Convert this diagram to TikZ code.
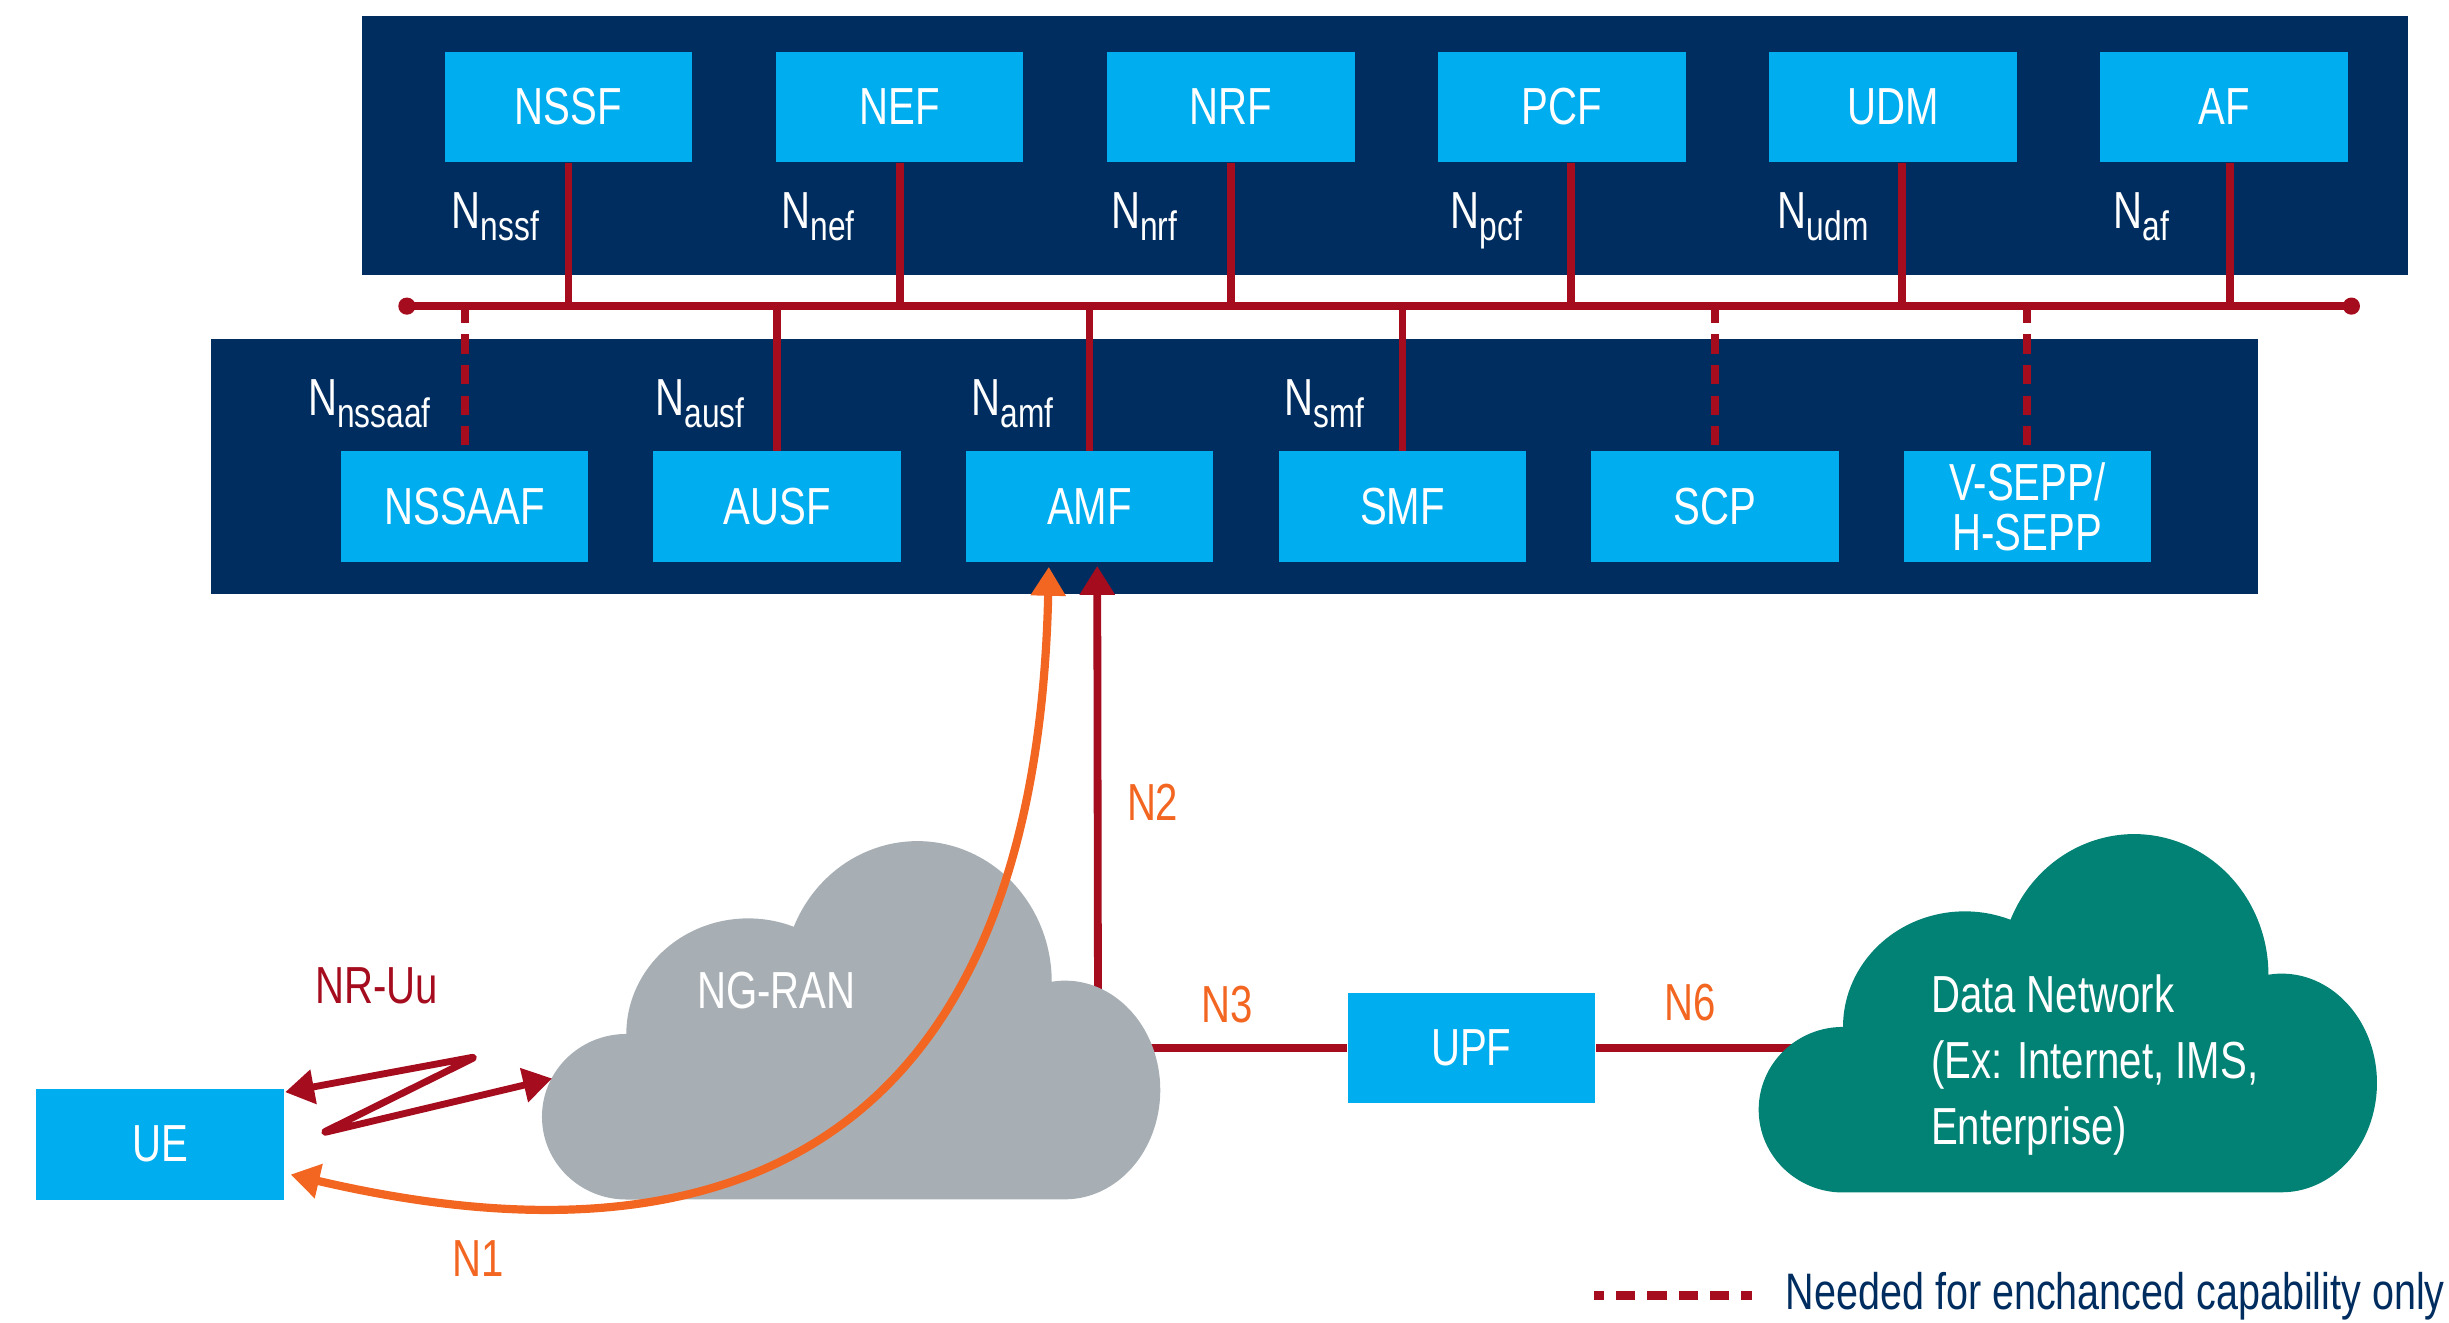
\documentclass[tikz,border=0pt]{standalone}
\usepackage{fontspec}
\setmainfont{Liberation Sans}[FakeStretch=0.77]
\usetikzlibrary{arrows.meta,calc}

\definecolor{coreblue}{RGB}{0,45,96}
\definecolor{nfblue}{RGB}{0,174,239}
\definecolor{ifred}{RGB}{165,12,30}
\definecolor{reforange}{RGB}{243,102,34}
\definecolor{rangray}{RGB}{168,175,180}
\definecolor{dnteal}{RGB}{1,130,116}

\newcommand{\Nif}[1]{N\raisebox{-0.16cm}{\fontsize{15}{15}\selectfont #1}}
\newcommand{\cloudpath}[1]{%
  ($(#1)+(54,231)$)
  arc[start angle=90, end angle=270, x radius=54, y radius=53]
  arc[start angle=180, end angle=292, x radius=78, y radius=74]
  arc[start angle=203, end angle=360, x radius=86, y radius=90]
  arc[start angle=262, end angle=450, x radius=61, y radius=70]
  -- cycle}

\begin{document}
\begin{tikzpicture}[
  x=0.02cm, y=-0.02cm,
  >={Triangle[length=0.37cm, width=0.43cm]},
  every node/.style={font=\fontsize{19}{19}\selectfont},
  nf/.style={rectangle, fill=nfblue, text=white, minimum width=3.17cm,
    minimum height=1.42cm, inner sep=0pt, align=center},
  iflabel/.style={text=white, inner sep=0pt},
  refpoint/.style={text=reforange, inner sep=0pt},
  bus/.style={draw=ifred, line width=0.108cm},
  iface/.style={draw=ifred, line width=0.1cm},
  optional/.style={iface, dash pattern=on 0.246cm off 0.146cm, dash phase=0.322cm}
]
  \useasboundingbox (0,0) rectangle (1568,847);

  \fill[coreblue] (232,10) rectangle (1542,176);
  \fill[coreblue] (135,217) rectangle (1446,380);

  \node[nf] (nssf) at (364,68.5) {NSSF};
  \node[nf] (nef) at (576,68.5) {NEF};
  \node[nf] (nrf) at (788,68.5) {NRF};
  \node[nf] (pcf) at (1000,68.5) {PCF};
  \node[nf] (udm) at (1212,68.5) {UDM};
  \node[nf] (af) at (1424,68.5) {AF};

  \node[nf] (nssaaf) at (297.5,324.5) {NSSAAF};
  \node[nf] (ausf) at (497.5,324.5) {AUSF};
  \node[nf] (amf) at (697.5,324.5) {AMF};
  \node[nf] (smf) at (898,324.5) {SMF};
  \node[nf] (scp) at (1098,324.5) {SCP};
  \node[nf, font=\fontsize{19}{18}\selectfont] (sepp) at (1298,324.5) {V-SEPP/\\H-SEPP};

  \node[nf] (ue) at (102.5,732.5) {UE};
  \node[nf] (upf) at (942,671) {UPF};

  \coordinate (busL) at (260.5,196);
  \coordinate (busR) at (1505.5,196);
  \draw[bus] (busL) -- (busR);
  \fill[ifred] (busL) circle[radius=5.5] (busR) circle[radius=5.5];

  \draw[iface] (nssf.south) -- (nssf.south |- busL);
  \draw[iface] (nef.south) -- (nef.south |- busL);
  \draw[iface] (nrf.south) -- (nrf.south |- busL);
  \draw[iface] ($(pcf.south)+(6,0)$) -- ($(pcf.south |- busL)+(6,0)$);
  \draw[iface] ($(udm.south)+(6,0)$) -- ($(udm.south |- busL)+(6,0)$);
  \draw[iface] ($(af.south)+(4,0)$) -- ($(af.south |- busL)+(4,0)$);

  \draw[optional] (nssaaf.north) -- (nssaaf.north |- busL);
  \draw[iface] (ausf.north) -- (ausf.north |- busL);
  \draw[iface] (amf.north) -- (amf.north |- busL);
  \draw[iface] (smf.north) -- (smf.north |- busL);
  \draw[optional] (scp.north) -- (scp.north |- busL);
  \draw[optional] (sepp.north) -- (sepp.north |- busL);

  \node[iflabel, anchor=base west] at (289,146) {\Nif{nssf}};
  \node[iflabel, anchor=base west] at (500,146) {\Nif{nef}};
  \node[iflabel, anchor=base west] at (711,146) {\Nif{nrf}};
  \node[iflabel, anchor=base west] at (928.5,146) {\Nif{pcf}};
  \node[iflabel, anchor=base west] at (1138,146) {\Nif{udm}};
  \node[iflabel, anchor=base west] at (1353,146) {\Nif{af}};

  \node[iflabel, anchor=base east] at (276,266) {\Nif{nssaaf}};
  \node[iflabel, anchor=base east] at (477,266) {\Nif{ausf}};
  \node[iflabel, anchor=base east] at (675,266) {\Nif{amf}};
  \node[iflabel, anchor=base east] at (874,266) {\Nif{smf}};

  % red links run into the clouds, which are filled on top of them
  \coordinate (ran-n2) at (703,650);
  \coordinate (ran-n3) at (725,671);
  \coordinate (dn-n6) at (1160,671);
  \draw[iface, ->] (ran-n2) -- ($(amf.south)+(5,2)$);
  \draw[iface] (ran-n3) -- (upf.west);
  \draw[iface] (upf.east) -- (dn-n6);

  \fill[rangray] \cloudpath{347,537};
  \fill[dnteal] \cloudpath{1126,532.5};

  \node[text=white] (ngran) at (497,634.5) {NG-RAN};
  \node[text=white, inner sep=0pt, anchor=west, align=left, font=\fontsize{19}{24.1}\selectfont] (dn)
    at (1236,682) {Data Network\\(Ex: Internet, IMS,\\Enterprise)};

  \draw[reforange, line width=0.105cm, <->] ($(ue.east)+(4,19.5)$)
    .. controls ($(ue.east)+(338,97.5)$) and ($(amf.south)+(-33,320)$)
    .. ($(amf.south)+(-26,2.6)$);

  \coordinate (ran-uu) at (353.5,690.5);
  \draw[ifred, line width=0.088cm, <->, line join=round, rounded corners=0.07cm]
    ($(ue.north east)+(0.5,2.6)$) -- (305,676.5) -- (206,725.5) -- (ran-uu);

  \node[text=ifred, inner sep=0pt] (uu) at (241,631) {NR-Uu};
  \node[refpoint] (n1) at (306,806) {N1};
  \node[refpoint] (n2) at (738,513.5) {N2};
  \node[refpoint] (n3) at (786,643) {N3};
  \node[refpoint] (n6) at (1082,642) {N6};

  \coordinate (legL) at (1020.6,829.5);
  \coordinate (legR) at (1121.8,829.5);
  \draw[ifred, line width=0.106cm, dash pattern=on 0.248cm off 0.154cm, dash phase=0.124cm]
    (legL) -- (legR);
  \node[anchor=base west, text=coreblue, inner sep=0pt, font=\fontsize{18.7}{18.7}\selectfont]
    (legend) at (1143,838.7) {Needed for enchanced capability only};
\end{tikzpicture}
\end{document}
